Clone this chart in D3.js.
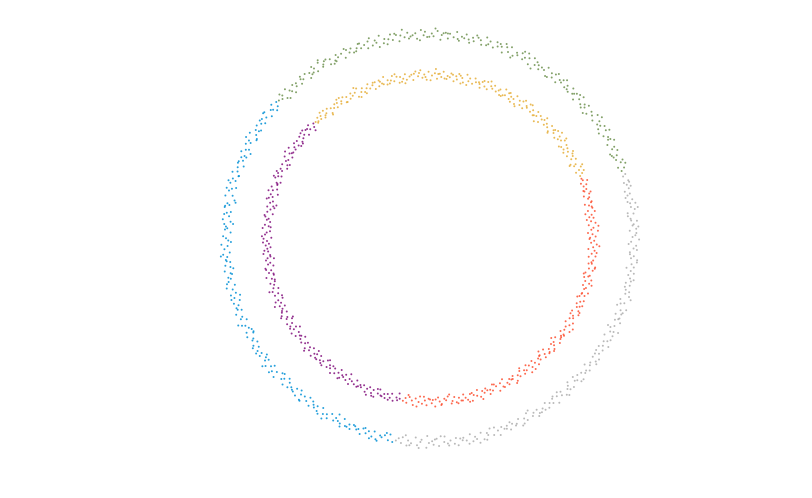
<!DOCTYPE html>
<html><head><meta charset="utf-8">
<script src="https://cdn.jsdelivr.net/npm/d3@7"></script>
<style>html,body{margin:0;padding:0;background:#fff;}</style>
</head><body><div id="chart"></div>
<script>
// Cluster colours
const clusterNames = ["outer-gray","outer-green","outer-blue","inner-red","inner-orange","inner-purple"];
const clusterColors = ["#8b8b8b","#6d904f","#008fd5","#fc4f30","#e5ae38","#810f7c"];

// Polar readings (angle in degrees, radius in data units) for each cluster
const grayAngle = [-99.6,-98.9,-98.1,-97.8,-96.5,-96.2,-95.3,-94.1,-93.6,-92.7,-92.4,-91.0,-90.3,-89.4,-89.0,-88.1,-87.5,-86.0,-85.8,-85.0,-84.2,-83.1,-82.6,-82.1,-80.8,-80.5,-79.7,-78.5,-77.9,-77.2,-76.8,-75.4,-74.8,-73.7,-73.5,-72.6,-71.9,-70.5,-70.2,-69.3,-68.6,-67.7,-67.0,-66.6,-65.3,-64.9,-64.0,-62.9,-62.4,-61.7,-61.2,-59.9,-59.3,-58.4,-58.1,-57.2,-56.5,-55.1,-54.8,-54.0,-53.1,-52.2,-51.8,-51.2,-49.9,-49.6,-48.8,-47.6,-47.0,-46.3,-45.9,-44.5,-43.9,-42.8,-42.5,-41.6,-40.9,-39.6,-39.2,-38.4,-37.7,-36.6,-36.0,-35.6,-34.3,-33.9,-33.0,-31.8,-31.3,-30.6,-30.1,-28.8,-28.2,-27.3,-27.0,-26.1,-25.4,-24.0,-23.7,-22.9,-22.1,-21.2,-20.6,-20.1,-18.8,-18.4,-17.6,-16.4,-15.8,-15.1,-14.7,-13.3,-12.7,-11.6,-11.3,-10.4,-9.8,-8.5,-8.1,-7.3,-6.6,-5.6,-5.0,-4.5,-3.2,-2.8,-2.0,-0.9,-0.3,0.4,0.9,2.2,2.7,3.7,4.0,4.9,5.6,7.0,7.3,8.2,8.9,9.9,10.5,11.0,12.3,12.7,13.5,14.7,15.3,16.0,16.4,17.8,18.3,
  -97.0,-93.1,-88.6,-84.7,-81.4,-76.1,-71.3,-68.0,-63.5,-60.4,-56.0,-52.7,-48.3,-44.1,-40.2,-37.1,-32.5,-29.4,-25.9,-21.7,-17.1,-13.9,-9.2,-6.0,-1.6,1.5,5.1,8.6,11.7,14.2,-95.7,-86.9,-79.1,-66.1,-57.8,-50.5,-43.3,-34.9,-26.7,-19.5,-12.1,-3.9,3.3,10.0,15.9,-90.8,-74.1,-46.9,-23.2,6.4];
const grayRadius = [1.004,0.991,1.012,0.983,1.021,0.996,1.008,0.978,1.015,0.999,0.987,1.026,1.003,0.994,1.011,0.982,1.018,1.000,0.973,1.009,0.995,1.014,0.986,1.023,1.002,0.990,1.007,0.979,1.016,0.997,1.010,0.984,1.020,0.993,1.005,0.976,1.013,0.998,1.024,0.988,1.001,0.992,1.017,0.981,1.009,1.003,0.985,1.019,0.996,1.011,0.977,1.006,0.994,1.022,0.989,1.013,1.000,0.983,1.015,0.997,1.008,0.980,1.025,0.992,1.004,0.987,1.018,0.999,1.010,0.975,1.014,0.995,1.002,0.984,1.021,0.991,1.007,1.016,0.978,1.000,0.993,1.012,0.986,1.019,1.003,0.981,1.009,0.997,1.023,0.989,1.005,0.976,1.015,0.994,1.010,0.985,1.001,1.020,0.990,1.008,0.982,1.013,0.998,1.024,0.987,1.004,0.979,1.017,0.995,1.011,0.992,1.006,0.984,1.019,1.000,0.988,1.014,0.974,1.009,0.996,1.021,0.990,1.003,0.983,1.016,0.999,1.011,0.986,1.025,0.993,1.007,0.980,1.012,0.995,1.001,1.018,0.988,1.005,0.977,1.014,0.997,1.022,0.985,1.010,0.991,1.004,0.982,1.017,1.000,0.989,1.013,0.994,1.008,
  0.972,1.028,0.985,1.019,0.991,1.031,0.978,1.006,1.024,0.969,1.013,0.988,1.027,0.975,1.002,1.022,0.981,1.016,0.970,1.009,1.029,0.984,0.997,1.021,0.974,1.012,0.990,1.030,0.979,1.005,1.018,0.971,1.025,0.993,1.011,0.977,1.020,0.986,1.032,0.973,1.007,0.982,1.023,0.996,1.015,0.968,1.026,0.989,1.004,0.976];

const greenAngle = [19.4,20.1,20.6,21.8,22.3,22.9,24.0,24.4,25.3,26.1,26.5,27.8,28.2,29.0,29.7,30.5,31.6,31.9,32.8,33.5,34.3,34.7,36.0,36.4,37.2,38.1,38.6,39.9,40.3,40.9,41.8,42.6,43.0,44.2,44.6,45.5,46.3,46.8,48.0,48.4,49.1,50.0,50.7,51.3,52.5,52.9,53.6,54.7,55.2,55.9,56.8,57.4,58.6,58.9,59.8,60.7,61.1,62.3,62.8,63.4,64.5,64.9,65.7,66.8,67.3,68.0,68.9,69.5,70.6,71.0,71.8,72.9,73.3,74.1,75.2,75.6,76.4,77.5,77.9,78.7,79.8,80.3,81.0,82.1,82.5,83.3,84.4,84.9,85.6,86.7,87.0,87.9,89.0,89.5,90.2,91.4,91.8,92.5,93.7,94.1,94.9,96.0,96.3,97.2,98.3,98.8,99.5,100.6,101.1,101.8,102.9,103.3,104.2,105.3,105.6,106.5,107.6,108.0,108.8,109.9,110.4,111.1,112.2,112.7,113.4,114.5,115.0,115.7,116.9,117.2,118.0,119.2,119.6,120.3,121.5,121.9,122.6,123.8,124.3,125.0,126.1,126.5,127.3,128.5,128.8,129.6,130.8,131.2,131.9,133.1,133.5,134.2,135.4,135.9,136.6,137.6,
  21.2,25.0,28.9,33.0,35.2,39.4,43.7,47.5,51.9,54.1,57.9,61.8,66.1,70.0,73.8,76.9,81.7,86.2,88.5,92.9,95.5,99.9,104.7,107.0,111.5,114.0,118.6,122.2,125.6,129.1,132.5,136.3,23.8,31.2,41.0,49.8,59.4,68.5,79.0,85.0,97.7,102.3,110.0,117.8,124.7,134.8,45.1,63.0,90.8,120.9];
const greenRadius = [0.996,1.013,0.985,1.007,1.020,0.990,1.002,0.979,1.016,0.994,1.009,0.983,1.024,0.998,1.005,0.987,1.012,0.975,1.018,1.001,0.992,1.010,0.984,1.021,0.997,1.006,0.981,1.015,0.993,1.003,0.988,1.023,1.000,0.978,1.011,0.995,1.017,0.986,1.008,0.991,1.026,0.999,1.004,0.982,1.014,0.989,1.007,0.976,1.019,0.997,1.002,0.985,1.012,0.993,1.022,0.980,1.009,1.001,0.988,1.015,0.995,1.006,0.983,1.020,0.991,1.011,0.977,1.004,0.998,1.017,0.986,1.010,0.994,1.024,0.982,1.003,1.013,0.990,1.007,0.979,1.016,0.996,1.001,0.987,1.021,0.993,1.008,0.984,1.012,0.999,0.975,1.018,0.992,1.005,0.989,1.014,0.997,1.023,0.981,1.009,1.000,0.986,1.015,0.994,1.006,0.978,1.011,0.990,1.019,0.998,1.003,0.983,1.025,0.995,1.008,0.987,1.013,0.980,1.002,0.992,1.017,0.999,0.985,1.010,0.993,1.021,0.977,1.005,0.996,1.012,0.988,1.007,0.982,1.016,1.001,0.991,1.022,0.986,1.009,0.994,1.004,0.979,1.014,0.997,1.018,0.984,1.006,0.992,1.011,0.989,1.000,1.020,0.981,1.008,0.995,1.003,
  1.027,0.974,1.010,0.983,1.031,0.969,1.018,0.992,1.024,0.977,1.003,1.029,0.971,1.014,0.986,1.022,0.980,1.008,1.030,0.973,0.995,1.019,0.970,1.026,0.987,1.012,0.976,1.033,0.990,1.006,0.972,1.021,0.984,1.028,0.979,1.015,0.968,1.025,0.994,1.009,1.032,0.975,1.017,0.982,1.023,0.970,1.001,1.027,0.988,1.013];

const blueAngle = [138.4,139.0,139.9,140.6,141.1,142.3,142.7,143.5,144.6,145.0,145.8,146.9,147.4,148.1,149.2,149.6,150.5,151.6,152.0,152.8,153.9,154.3,155.2,156.2,156.7,157.4,158.5,158.9,159.7,160.8,161.3,162.0,163.1,163.5,164.4,165.4,165.9,166.6,167.8,168.1,169.0,170.1,170.5,171.3,172.4,172.8,173.7,174.7,175.2,176.0,177.1,177.5,178.3,179.4,179.9,180.6,181.7,182.1,183.0,184.0,184.5,185.2,186.4,186.7,187.6,188.6,189.1,189.9,191.0,191.4,192.2,193.3,193.8,194.5,195.6,196.0,196.9,197.9,198.4,199.2,200.3,200.7,201.5,202.6,203.1,203.8,204.9,205.3,206.2,207.2,207.7,208.4,209.5,209.9,210.8,211.8,212.3,213.1,214.2,214.6,215.4,216.5,216.9,217.8,218.8,219.3,220.0,221.1,221.5,222.4,223.4,223.9,224.7,225.8,226.2,227.0,228.1,228.5,229.3,230.4,230.9,231.6,232.7,233.1,234.0,235.0,235.5,236.2,237.3,237.8,238.6,239.6,240.1,240.9,242.0,242.4,243.2,244.3,244.7,245.6,246.6,247.1,247.8,248.9,249.4,250.2,251.2,251.7,252.4,253.5,254.0,254.8,255.8,256.3,257.1,258.2,258.6,259.5,
  140.0,143.1,147.9,151.1,154.8,158.0,161.9,166.0,169.6,173.2,176.6,181.0,184.9,188.1,192.7,196.5,199.8,204.4,208.0,211.3,215.9,219.7,223.0,227.6,231.2,234.4,238.9,242.8,246.1,250.7,253.0,257.5,145.3,156.0,163.9,175.8,186.0,197.2,206.9,217.3,225.0,236.7,248.3,255.2,150.1,170.9,190.2,213.5,229.8,244.0];
const blueRadius = [1.008,0.989,1.017,0.995,1.003,0.980,1.021,0.998,1.011,0.986,1.000,1.014,0.983,1.006,0.992,1.024,0.977,1.009,0.996,1.015,0.988,1.002,1.019,0.984,1.007,0.993,1.012,0.979,1.005,0.999,1.022,0.987,1.010,0.994,1.016,0.982,1.001,1.013,0.990,1.025,0.976,1.008,0.997,1.018,0.985,1.004,0.991,1.020,0.981,1.011,0.995,1.006,0.978,1.014,1.000,0.989,1.023,0.993,1.009,0.984,1.017,0.998,1.003,0.986,1.012,0.975,1.019,0.992,1.007,0.996,1.010,0.983,1.026,0.999,0.988,1.015,1.002,0.980,1.013,0.994,1.005,0.987,1.021,0.997,1.008,0.982,1.016,1.001,0.990,1.011,0.977,1.018,0.995,1.004,0.985,1.022,0.993,1.009,0.998,1.014,0.981,1.006,0.989,1.020,1.000,0.984,1.012,0.996,1.024,0.979,1.003,0.991,1.017,0.986,1.010,0.997,1.007,0.983,1.015,0.992,1.019,0.988,1.001,0.976,1.013,0.995,1.005,0.990,1.021,0.982,1.008,0.999,1.016,0.985,1.011,0.993,1.002,1.023,0.978,1.009,0.994,1.014,0.987,1.004,0.998,1.018,0.981,1.006,0.991,1.012,0.984,1.020,0.996,1.003,0.989,1.010,0.980,1.015,
  0.978,1.023,0.990,1.030,0.972,1.011,0.985,1.027,0.969,1.016,1.002,0.976,1.029,0.988,1.020,0.971,1.008,1.032,0.981,1.013,0.993,1.026,0.974,1.004,1.021,0.983,1.031,0.970,1.010,0.987,1.024,0.977,1.015,0.995,1.028,0.968,1.006,1.019,0.980,1.033,0.973,1.012,0.991,1.025,0.979,1.017,0.986,1.022,0.975,1.009];

const redAngle = [-99.5,-98.7,-98.2,-97.3,-96.4,-95.9,-95.1,-94.0,-93.6,-92.8,-91.8,-91.2,-90.5,-89.4,-89.0,-88.2,-87.1,-86.6,-85.9,-84.9,-84.3,-83.6,-82.5,-82.1,-81.3,-80.2,-79.7,-79.0,-78.0,-77.4,-76.7,-75.6,-75.2,-74.4,-73.3,-72.8,-72.1,-71.1,-70.5,-69.8,-68.7,-68.3,-67.5,-66.4,-65.9,-65.2,-64.2,-63.6,-62.9,-61.8,-61.4,-60.6,-59.5,-59.0,-58.3,-57.3,-56.7,-56.0,-54.9,-54.5,-53.7,-52.6,-52.1,-51.4,-50.4,-49.8,-49.1,-48.0,-47.6,-46.8,-45.7,-45.2,-44.5,-43.5,-42.9,-42.2,-41.1,-40.7,-39.9,-38.8,-38.3,-37.6,-36.6,-36.0,-35.3,-34.2,-33.8,-33.0,-31.9,-31.4,-30.7,-29.7,-29.1,-28.4,-27.3,-26.9,-26.1,-25.0,-24.5,-23.8,-22.8,-22.2,-21.5,-20.4,-20.0,-19.2,-18.1,-17.6,-16.9,-15.9,-15.3,-14.6,-13.5,-13.1,-12.3,-11.2,-10.7,-10.0,-9.0,-8.4,-7.7,-6.6,-6.2,-5.4,-4.3,-3.8,-3.1,-2.1,-1.5,-0.8,0.3,0.7,1.5,2.6,3.1,3.8,4.8,5.4,6.1,7.2,7.6,8.4,9.5,9.9,10.7,11.7,12.3,13.0,14.1,14.5,15.3,16.3,16.9,17.6,18.7,19.1,19.9,20.9,21.5,
  -97.8,-94.6,-90.0,-86.1,-83.0,-78.5,-74.9,-71.6,-67.0,-63.2,-60.0,-55.5,-51.0,-47.1,-43.9,-39.4,-35.7,-32.5,-28.0,-24.0,-19.7,-16.3,-12.8,-8.9,-5.0,-0.2,4.3,8.9,12.7,17.2,20.4,-92.2,-80.7,-69.3,-58.9,-46.2,-37.0,-26.5,-14.0,-2.6,6.7,15.8,-88.0,-76.2,-53.0,-41.6,-21.0,-10.4,2.0,11.2];
const redRadius = [0.806,0.791,0.814,0.783,0.799,0.821,0.788,0.803,0.776,0.811,0.795,0.817,0.785,0.808,0.792,0.824,0.780,0.801,0.813,0.789,0.797,0.779,0.816,0.804,0.786,0.820,0.794,0.809,0.782,0.800,0.812,0.787,0.823,0.796,0.805,0.778,0.815,0.790,0.802,0.784,0.818,0.798,0.807,0.781,0.793,0.822,0.788,0.810,0.775,0.803,0.814,0.791,0.799,0.786,0.819,0.796,0.808,0.783,0.811,0.794,0.801,0.825,0.789,0.806,0.780,0.797,0.816,0.792,0.804,0.785,0.813,0.798,0.777,0.809,0.795,0.821,0.787,0.802,0.790,0.817,0.782,0.807,0.800,0.812,0.784,0.796,0.823,0.793,0.805,0.779,0.815,0.788,0.803,0.797,0.819,0.781,0.810,0.794,0.806,0.786,0.799,0.814,0.776,0.808,0.791,0.820,0.795,0.802,0.784,0.811,0.789,0.817,0.798,0.804,0.780,0.813,0.793,0.822,0.787,0.800,0.807,0.783,0.816,0.796,0.809,0.778,0.801,0.818,0.790,0.805,0.785,0.812,0.797,0.824,0.792,0.803,0.781,0.815,0.794,0.808,0.788,0.801,0.819,0.786,0.810,0.796,0.777,0.813,0.799,0.806,0.782,0.820,0.791,0.804,0.795,0.811,0.787,0.802,0.798,
  0.774,0.826,0.789,0.818,0.770,0.810,0.784,0.829,0.777,0.815,0.798,0.772,0.823,0.786,0.812,0.769,0.806,0.830,0.780,0.817,0.792,0.825,0.773,0.803,0.820,0.782,0.828,0.771,0.809,0.787,0.822,0.776,0.814,0.795,0.827,0.768,0.805,0.819,0.779,0.831,0.774,0.811,0.790,0.824,0.778,0.816,0.785,0.821,0.775,0.808];

const orangeAngle = [22.6,23.3,24.2,24.7,25.5,26.6,27.0,27.7,28.7,29.3,30.0,31.0,31.5,32.2,33.3,33.7,34.4,35.5,36.0,36.8,37.8,38.2,39.0,40.0,40.5,41.2,42.3,42.7,43.5,44.5,45.0,45.7,46.8,47.2,47.9,49.0,49.4,50.2,51.2,51.7,52.4,53.5,53.9,54.7,55.7,56.2,56.9,58.0,58.4,59.1,60.2,60.6,61.4,62.4,62.9,63.6,64.7,65.1,65.9,66.9,67.4,68.1,69.2,69.6,70.3,71.4,71.8,72.6,73.6,74.1,74.8,75.9,76.3,77.1,78.1,78.6,79.3,80.4,80.8,81.5,82.6,83.0,83.8,84.8,85.3,86.0,87.1,87.5,88.3,89.3,89.8,90.5,91.6,92.0,92.7,93.8,94.2,95.0,96.0,96.5,97.2,98.3,98.7,99.5,100.5,101.0,101.7,102.8,103.2,103.9,105.0,105.4,106.2,107.2,107.7,108.4,109.5,109.9,110.6,111.7,112.1,112.9,113.9,114.4,115.1,116.2,116.6,117.3,118.4,118.8,119.6,120.6,121.1,121.8,122.9,123.3,124.0,125.1,125.5,126.3,127.3,127.8,128.5,129.6,130.0,130.8,131.8,132.3,133.0,134.0,134.5,
  24.0,27.4,30.8,34.9,38.7,42.0,46.0,49.9,53.1,57.4,61.0,64.3,68.6,72.2,76.7,79.9,84.1,88.0,91.2,95.6,99.0,102.2,106.7,110.2,113.5,117.0,121.4,124.5,128.0,131.3,133.6,26.0,32.7,40.9,48.5,55.1,63.1,70.9,78.9,86.6,93.3,100.1,108.0,115.8,123.0,130.3,36.3,59.7,82.0,104.5];
const orangeRadius = [0.797,0.812,0.785,0.804,0.819,0.790,0.801,0.778,0.815,0.794,0.808,0.783,0.822,0.799,0.806,0.787,0.811,0.776,0.817,0.802,0.793,0.809,0.784,0.820,0.796,0.805,0.781,0.814,0.792,0.803,0.789,0.823,0.800,0.779,0.810,0.795,0.816,0.786,0.807,0.791,0.825,0.798,0.804,0.782,0.813,0.788,0.806,0.777,0.818,0.797,0.801,0.785,0.811,0.793,0.821,0.780,0.808,0.800,0.789,0.814,0.795,0.805,0.783,0.819,0.791,0.810,0.778,0.803,0.798,0.816,0.786,0.809,0.794,0.823,0.782,0.802,0.812,0.790,0.806,0.779,0.815,0.796,0.801,0.787,0.820,0.793,0.807,0.784,0.811,0.799,0.776,0.817,0.792,0.804,0.789,0.813,0.797,0.822,0.781,0.808,0.800,0.786,0.814,0.794,0.805,0.778,0.810,0.790,0.818,0.798,0.803,0.783,0.824,0.795,0.807,0.787,0.812,0.780,0.802,0.792,0.816,0.799,0.785,0.809,0.793,0.820,0.777,0.804,0.796,0.811,0.788,0.806,0.782,0.815,0.801,0.791,0.821,0.786,0.808,0.794,0.803,0.779,0.813,0.797,0.817,0.784,0.805,0.792,0.810,0.789,0.800,
  0.825,0.771,0.813,0.784,0.829,0.775,0.808,0.790,0.822,0.769,0.816,0.781,0.827,0.795,0.773,0.819,0.786,0.831,0.778,0.811,0.770,0.824,0.789,0.814,0.776,0.828,0.783,0.806,0.772,0.820,0.793,0.830,0.777,0.812,0.768,0.823,0.787,0.817,0.774,0.809,0.826,0.780,0.815,0.771,0.821,0.792,0.829,0.776,0.810,0.785];

const purpleAngle = [135.4,136.1,137.1,137.6,138.3,139.4,139.8,140.5,141.6,142.1,142.8,143.8,144.3,145.0,146.1,146.5,147.3,148.3,148.8,149.5,150.6,151.0,151.7,152.8,153.3,154.0,155.0,155.5,156.2,157.3,157.7,158.5,159.5,160.0,160.7,161.8,162.2,162.9,164.0,164.5,165.2,166.2,166.7,167.4,168.5,168.9,169.7,170.7,171.2,171.9,173.0,173.4,174.1,175.2,175.7,176.4,177.4,177.9,178.6,179.7,180.1,180.9,181.9,182.4,183.1,184.2,184.6,185.3,186.4,186.9,187.6,188.6,189.1,189.8,190.9,191.3,192.1,193.1,193.6,194.3,195.4,195.8,196.5,197.6,198.1,198.8,199.8,200.3,201.0,202.1,202.5,203.3,204.3,204.8,205.5,206.6,207.0,207.7,208.8,209.3,210.0,211.0,211.5,212.2,213.3,213.7,214.5,215.5,216.0,216.7,217.8,218.2,218.9,220.0,220.5,221.2,222.2,222.7,223.4,224.5,224.9,225.7,226.7,227.2,227.9,229.0,229.4,230.1,231.2,231.7,232.4,233.4,233.9,234.6,235.7,236.1,236.9,237.9,238.4,239.1,240.2,240.6,241.3,242.4,242.9,243.6,244.6,245.1,245.8,246.9,247.3,248.1,249.1,249.6,250.3,251.4,251.8,252.5,253.6,254.1,254.8,255.8,256.3,257.0,258.1,258.5,259.3,
  136.6,140.9,144.7,149.0,152.3,156.7,160.3,163.4,167.9,172.4,176.0,179.2,183.6,187.2,190.4,194.8,198.5,201.9,206.1,209.6,212.8,217.1,221.7,225.3,228.6,232.9,236.5,239.9,244.0,247.7,250.9,255.3,258.9,138.9,147.8,158.1,169.0,181.4,192.6,203.8,214.1,226.1,237.3,249.5,143.2,165.8,185.9,208.2,230.6,252.9];
const purpleRadius = [0.803,0.788,0.816,0.795,0.807,0.781,0.820,0.799,0.792,0.812,0.785,0.809,0.777,0.814,0.801,0.790,0.823,0.796,0.805,0.783,0.818,0.794,0.802,0.786,0.811,0.779,0.808,0.797,0.821,0.789,0.804,0.815,0.782,0.800,0.793,0.817,0.787,0.806,0.776,0.810,0.798,0.824,0.791,0.803,0.784,0.813,0.795,0.808,0.780,0.819,0.797,0.805,0.788,0.812,0.793,0.822,0.785,0.801,0.809,0.778,0.816,0.799,0.790,0.806,0.783,0.814,0.796,0.820,0.787,0.802,0.811,0.792,0.804,0.779,0.818,0.794,0.807,0.786,0.825,0.800,0.789,0.813,0.797,0.805,0.782,0.815,0.791,0.810,0.777,0.803,0.819,0.795,0.808,0.784,0.801,0.812,0.788,0.821,0.798,0.806,0.781,0.817,0.793,0.809,0.786,0.802,0.823,0.790,0.814,0.796,0.804,0.778,0.811,0.799,0.787,0.816,0.794,0.807,0.783,0.820,0.800,0.792,0.813,0.785,0.805,0.797,0.818,0.780,0.809,0.791,0.803,0.822,0.789,0.810,0.796,0.776,0.815,0.801,0.784,0.808,0.793,0.819,0.798,0.806,0.782,0.812,0.795,0.804,0.788,0.817,0.799,0.786,0.811,0.792,0.824,0.802,0.779,0.807,0.794,0.813,0.790,0.805,0.783,0.816,0.797,0.809,0.800,
  0.772,0.818,0.789,0.829,0.776,0.811,0.794,0.826,0.770,0.814,0.783,0.824,0.799,0.771,0.820,0.787,0.830,0.779,0.808,0.773,0.816,0.791,0.827,0.775,0.813,0.785,0.822,0.769,0.806,0.828,0.781,0.817,0.774,0.810,0.792,0.825,0.777,0.819,0.786,0.831,0.770,0.812,0.796,0.823,0.778,0.815,0.788,0.828,0.772,0.809];

const W = 812, H = 498;
const cx = 430, cy = 238.5, unit = 204;

const clusters = [
  {angle: grayAngle,   radius: grayRadius},
  {angle: greenAngle,  radius: greenRadius},
  {angle: blueAngle,   radius: blueRadius},
  {angle: redAngle,    radius: redRadius},
  {angle: orangeAngle, radius: orangeRadius},
  {angle: purpleAngle, radius: purpleRadius}
];

const points = [];
clusters.forEach((c, k) => {
  c.angle.forEach((a, i) => {
    const t = a * Math.PI / 180, r = c.radius[i];
    points.push({x: r * Math.cos(t), y: r * Math.sin(t), k});
  });
});

const x = d3.scaleLinear().domain([-1.1, 1.1]).range([cx - 1.1 * unit, cx + 1.1 * unit]);
const y = d3.scaleLinear().domain([-1.1, 1.1]).range([cy + 1.1 * unit, cy - 1.1 * unit]);
const color = d3.scaleOrdinal().domain(d3.range(clusterNames.length)).range(clusterColors);

const svg = d3.select("#chart").append("svg").attr("width", W).attr("height", H);
svg.append("g").selectAll("circle").data(points).join("circle")
  .attr("cx", d => x(d.x)).attr("cy", d => y(d.y))
  .attr("r", 1)
  .attr("fill", d => color(d.k))
  .attr("fill-opacity", d => d.k === 0 ? 0.6 : 0.85);
</script>
</body></html>
